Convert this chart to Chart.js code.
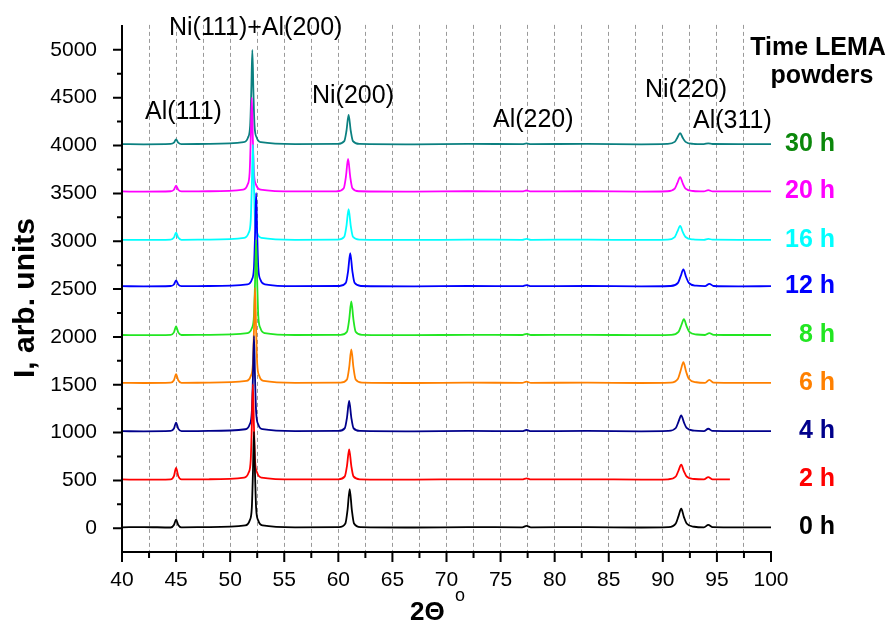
<!DOCTYPE html>
<html>
<head>
<meta charset="utf-8">
<script src="https://cdn.jsdelivr.net/npm/chart.js@4.4.1/dist/chart.umd.min.js"></script>
<style>
  html, body { margin: 0; padding: 0; background: #ffffff; }
  #wrap { width: 890px; height: 635px; }
</style>
</head>
<body>
<div id="wrap"><canvas id="chart" width="890" height="635"></canvas></div>
<script>
// XRD patterns, each pattern shifted up by ~500
const h0 = [[40,10],[42,13],[44.5,8],[44.8,35],[45.0,90],[45.2,35],[45.5,10],[48,12],[51.4,30],[51.8,80],[52.0,210],[52.1,560],[52.2,1010],[52.3,560],[52.4,210],[52.6,80],[53.0,30],[56,10],[60.05,12],[60.65,50],[60.85,190],[61.05,410],[61.25,190],[61.45,50],[62.05,12],[67,8],[72,12],[77.0,10],[77.4,25],[77.8,10],[83,12],[88,8],[90.5,12],[91.2,50],[91.45,127],[91.7,205],[91.95,117],[92.2,50],[92.9,16],[93.8,10],[94.2,35],[94.6,12],[97,10],[100,10]];
const h2 = [[40,510],[42,508],[44.5,512],[44.8,546],[45.0,630],[45.2,546],[45.5,510],[48,512],[51.3,530],[51.7,580],[51.9,710],[52.0,1060],[52.1,1505],[52.2,1060],[52.3,710],[52.5,580],[52.9,530],[56,510],[60.0,512],[60.6,542],[60.8,652],[61.0,825],[61.2,652],[61.4,542],[62.0,512],[67,508],[72,512],[77.0,510],[77.4,522],[77.8,510],[83,512],[88,508],[90.5,512],[91.2,541],[91.45,603],[91.7,665],[91.95,595],[92.2,541],[92.9,515],[93.8,510],[94.2,535],[94.6,512],[96.2,510]];
const h4 = [[40,1015],[42,1013],[44.5,1017],[44.8,1042],[45.0,1105],[45.2,1042],[45.5,1015],[48,1017],[51.4,1035],[51.8,1085],[52.0,1215],[52.1,1565],[52.2,2010],[52.3,1565],[52.4,1215],[52.6,1085],[53.0,1035],[56,1015],[60.0,1017],[60.6,1047],[60.8,1157],[61.0,1330],[61.2,1157],[61.4,1047],[62.0,1017],[67,1013],[72,1017],[77.0,1015],[77.4,1027],[77.8,1015],[83,1017],[88,1013],[90.5,1017],[91.2,1048],[91.45,1114],[91.7,1180],[91.95,1106],[92.2,1048],[92.9,1020],[93.8,1015],[94.2,1040],[94.6,1017],[97,1015],[100,1015]];
const h6 = [[40,1520],[42,1518],[44.5,1522],[44.8,1547],[45.0,1610],[45.2,1547],[45.5,1520],[48,1522],[51.5,1540],[51.9,1590],[52.1,1720],[52.2,2070],[52.3,2515],[52.4,2070],[52.5,1720],[52.7,1590],[53.1,1540],[56,1520],[60.2,1522],[60.8,1555],[61.0,1678],[61.2,1870],[61.4,1678],[61.6,1555],[62.2,1522],[67,1518],[72,1522],[77.0,1520],[77.4,1532],[77.8,1520],[83,1522],[88,1518],[90.7,1522],[91.4,1563],[91.65,1649],[91.9,1735],[92.15,1638],[92.4,1563],[93.1,1526],[93.9,1520],[94.3,1550],[94.7,1522],[97,1520],[100,1520]];
const h8 = [[40,2020],[42,2018],[44.5,2022],[44.8,2047],[45.0,2110],[45.2,2047],[45.5,2020],[48,2022],[51.6,2040],[52.0,2090],[52.2,2220],[52.3,2570],[52.4,3015],[52.5,2570],[52.6,2220],[52.8,2090],[53.2,2040],[56,2020],[60.2,2022],[60.8,2055],[61.0,2178],[61.2,2370],[61.4,2178],[61.6,2055],[62.2,2022],[67,2018],[72,2022],[77.0,2020],[77.4,2032],[77.8,2020],[83,2022],[88,2018],[90.75,2022],[91.45,2053],[91.7,2119],[91.95,2185],[92.2,2111],[92.45,2053],[93.15,2025],[93.9,2020],[94.3,2040],[94.7,2022],[97,2020],[100,2020]];
const h12 = [[40,2530],[42,2528],[44.5,2532],[44.8,2548],[45.0,2590],[45.2,2548],[45.5,2530],[48,2532],[51.6,2550],[52.0,2598],[52.2,2725],[52.3,3066],[52.4,3505],[52.5,3066],[52.6,2725],[52.8,2598],[53.2,2550],[56,2530],[60.1,2532],[60.7,2565],[60.9,2685],[61.1,2875],[61.3,2685],[61.5,2565],[62.1,2532],[67,2528],[72,2532],[77.0,2530],[77.4,2542],[77.8,2530],[83,2532],[88,2528],[90.7,2532],[91.4,2565],[91.65,2635],[91.9,2705],[92.15,2626],[92.4,2565],[93.1,2535],[93.9,2530],[94.3,2555],[94.7,2532],[97,2528],[100,2530]];
const h16 = [[40,3015],[42,3013],[44.5,3017],[44.8,3038],[45.0,3090],[45.2,3038],[45.5,3015],[48,3017],[51.3,3035],[51.7,3085],[51.9,3215],[52.0,3565],[52.1,4010],[52.2,3565],[52.3,3215],[52.5,3085],[52.9,3035],[56,3015],[59.95,3017],[60.55,3047],[60.75,3159],[60.95,3335],[61.15,3159],[61.35,3047],[61.95,3017],[67,3013],[72,3017],[77.0,3015],[77.4,3025],[77.8,3015],[83,3017],[88,3013],[90.4,3017],[91.1,3044],[91.35,3102],[91.6,3160],[91.85,3095],[92.1,3044],[92.8,3019],[93.8,3015],[94.2,3025],[94.6,3016],[97,3015],[100,3015]];
const h20 = [[40,3520],[42,3518],[44.5,3522],[44.8,3538],[45.0,3580],[45.2,3538],[45.5,3520],[48,3522],[51.2,3540],[51.6,3589],[51.8,3716],[51.9,4059],[52.0,4500],[52.1,4059],[52.2,3716],[52.4,3589],[52.8,3540],[56,3520],[59.9,3522],[60.5,3554],[60.7,3673],[60.9,3860],[61.1,3673],[61.3,3554],[61.9,3522],[67,3518],[72,3522],[77.0,3520],[77.4,3530],[77.8,3520],[83,3522],[88,3518],[90.4,3522],[91.1,3550],[91.35,3610],[91.6,3670],[91.85,3603],[92.1,3550],[92.8,3525],[93.8,3520],[94.2,3535],[94.6,3521],[97,3520],[100,3520]];
const h30 = [[40,4015],[42,4013],[44.5,4017],[44.8,4030],[45.0,4065],[45.2,4030],[45.5,4015],[48,4017],[51.25,4035],[51.65,4084],[51.85,4212],[51.95,4557],[52.05,5000],[52.15,4557],[52.25,4212],[52.45,4084],[52.85,4035],[56,4015],[59.95,4017],[60.55,4046],[60.75,4152],[60.95,4320],[61.15,4152],[61.35,4046],[61.95,4017],[67,4013],[72,4017],[77.0,4015],[77.4,4022],[77.8,4015],[83,4017],[88,4013],[90.4,4017],[91.1,4038],[91.35,4084],[91.6,4130],[91.85,4078],[92.1,4038],[92.8,4018],[93.8,4015],[94.2,4023],[94.6,4016],[97,4015],[100,4015]];

const seriesData = [h0, h2, h4, h6, h8, h12, h16, h20, h30];
const seriesLabels = ["0 h", "2 h", "4 h", "6 h", "8 h", "12 h", "16 h", "20 h", "30 h"];
const lineColors = ["#000000", "#ff0000", "#00008b", "#ff8000", "#22e622", "#0000ff", "#00ffff", "#ff00ff", "#0b8080"];
const labelColors = ["#000000", "#ff0000", "#00008b", "#ff8000", "#22e622", "#0000ff", "#00ffff", "#ff00ff", "#0b870b"];

const peakNames = ["Ni(111)+Al(200)", "Al(111)", "Ni(200)", "Al(220)", "Ni(220)", "Al(311)"];

const xMajor = [40, 45, 50, 55, 60, 65, 70, 75, 80, 85, 90, 95, 100];
const xMinor = [42.5, 47.5, 52.5, 57.5, 62.5, 67.5, 72.5, 77.5, 82.5, 87.5, 92.5, 97.5];
const yMajor = [0, 500, 1000, 1500, 2000, 2500, 3000, 3500, 4000, 4500, 5000];
const yMinor = [250, 750, 1250, 1750, 2250, 2750, 3250, 3750, 4250, 4750];

const FONT = "'Liberation Sans', Arial, sans-serif";

// axis lines, inner/outer ticks and all free text
const decorPlugin = {
  id: "decor",
  afterDraw(chart) {
    const ctx = chart.ctx;
    const area = chart.chartArea;
    const xs = chart.scales.x;
    const ys = chart.scales.y;
    ctx.save();

    ctx.strokeStyle = "#000000";
    ctx.lineWidth = 2;
    ctx.beginPath();
    ctx.moveTo(area.left, area.top);
    ctx.lineTo(area.left, area.bottom + 1);
    ctx.moveTo(area.left - 1, area.bottom);
    ctx.lineTo(area.right + 1, area.bottom);
    for (const v of xMajor) {
      const px = xs.getPixelForValue(v);
      ctx.moveTo(px, area.bottom);
      ctx.lineTo(px, area.bottom + 10);
    }
    for (const v of xMinor) {
      const px = xs.getPixelForValue(v);
      ctx.moveTo(px, area.bottom);
      ctx.lineTo(px, area.bottom + 6);
    }
    for (const v of yMajor) {
      const py = ys.getPixelForValue(v);
      ctx.moveTo(area.left, py);
      ctx.lineTo(area.left - 9, py);
    }
    for (const v of yMinor) {
      const py = ys.getPixelForValue(v);
      ctx.moveTo(area.left, py);
      ctx.lineTo(area.left - 5, py);
    }
    ctx.stroke();

    // peak names
    const peakPos = [[169, 35], [145, 119], [312, 103], [493, 127], [645, 97], [693, 128]];
    ctx.fillStyle = "#000000";
    ctx.font = "25px " + FONT;
    ctx.textAlign = "left";
    ctx.textBaseline = "alphabetic";
    peakNames.forEach((name, i) => {
      ctx.fillText(name, peakPos[i][0], peakPos[i][1]);
    });

    // legend title
    ctx.font = "bold 25px " + FONT;
    ctx.textAlign = "center";
    ctx.fillText("Time LEMA", 818, 55);
    ctx.fillText("powders", 822, 83);

    // series labels, one at each pattern's baseline
    ctx.textAlign = "right";
    ctx.textBaseline = "middle";
    seriesLabels.forEach((lab, i) => {
      ctx.fillStyle = labelColors[i];
      ctx.fillText(lab, 835, ys.getPixelForValue(seriesData[i][0][1]));
    });

    // axis titles
    ctx.fillStyle = "#000000";
    ctx.save();
    ctx.translate(34, 298);
    ctx.rotate(-Math.PI / 2);
    ctx.textAlign = "center";
    ctx.textBaseline = "alphabetic";
    ctx.font = "bold 30px " + FONT;
    ctx.fillText("I, arb. units", 0, 0);
    ctx.restore();

    ctx.textAlign = "left";
    ctx.textBaseline = "alphabetic";
    ctx.font = "bold 26px " + FONT;
    ctx.fillText("2\u0398", 410, 620);
    ctx.font = "18px " + FONT;
    ctx.fillText("o", 455, 601);

    ctx.restore();
  },
};

new Chart(document.getElementById("chart"), {
  type: "line",
  data: {
    datasets: seriesData.map((pts, i) => ({
      label: seriesLabels[i],
      data: pts.map((p) => ({ x: p[0], y: p[1] })),
      borderColor: lineColors[i],
      borderWidth: 1.8,
      pointRadius: 0,
      cubicInterpolationMode: "monotone",
      fill: false,
    })),
  },
  options: {
    responsive: false,
    animation: false,
    layout: { padding: { left: 0, right: 119, top: 16, bottom: 0 } },
    plugins: {
      legend: { display: false },
      tooltip: { enabled: false },
    },
    scales: {
      x: {
        type: "linear",
        min: 40,
        max: 100,
        afterBuildTicks: (scale) => {
          scale.ticks = xMajor.concat(xMinor).sort((a, b) => a - b).map((v) => ({ value: v }));
        },
        afterFit: (scale) => {
          scale.height = 83;
        },
        grid: {
          drawTicks: false,
          lineWidth: 1,
          color: (c) => (c.tick && (c.tick.value === 40 || c.tick.value === 100) ? "rgba(0,0,0,0)" : "#9a9a9a"),
        },
        border: { display: false, dash: [4, 3] },
        ticks: {
          autoSkip: false,
          maxRotation: 0,
          padding: 16,
          color: "#000000",
          font: { family: FONT, size: 21 },
          callback: (v) => (xMajor.includes(v) ? String(v) : ""),
        },
      },
      y: {
        type: "linear",
        min: -248,
        max: 5261,
        afterBuildTicks: (scale) => {
          scale.ticks = yMajor.map((v) => ({ value: v }));
        },
        afterFit: (scale) => {
          scale.width = 122;
        },
        grid: { display: false },
        border: { display: false },
        ticks: {
          padding: 17,
          color: "#000000",
          font: { family: FONT, size: 21, lineHeight: 0.75 },
          callback: (v) => String(v),
        },
      },
    },
  },
  plugins: [decorPlugin],
});
</script>
</body>
</html>
